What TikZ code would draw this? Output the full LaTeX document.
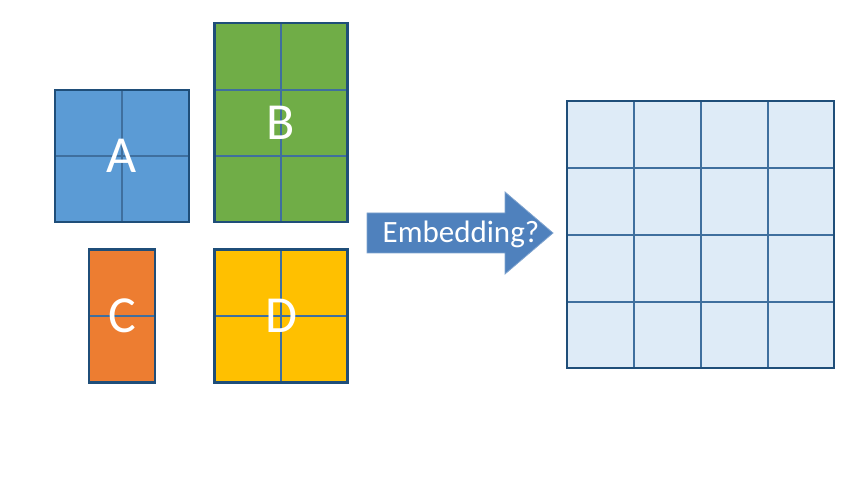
\documentclass[tikz,border=0pt]{standalone}
\usepackage{fontspec}
\setmainfont{Carlito}
\definecolor{cA}{HTML}{5B9BD5}
\definecolor{cB}{HTML}{70AD47}
\definecolor{cC}{HTML}{ED7D31}
\definecolor{cD}{HTML}{FFC000}
\definecolor{edge}{HTML}{1F4E79}
\definecolor{inner}{HTML}{3F6F9E}
\definecolor{gridfill}{HTML}{DEEBF7}
\definecolor{arrowfill}{HTML}{4F81BD}
\definecolor{arrowedge}{HTML}{7FA3CE}
\begin{document}
\begin{tikzpicture}[x=1pt,y=-1pt,
  block/.style={draw=edge,line width=2.4pt,inner sep=0pt,text=white,font=\fontsize{52}{52}\selectfont},
  cellline/.style={draw=inner,line width=1.6pt},
  embedtext/.style={text=white,font=\fontsize{31}{31}\selectfont,inner sep=0pt}]
\useasboundingbox (0,0) rectangle (846,494);
% blocks
\path[fill=cA] (55,90) rectangle (189,222);
\draw[cellline] (122,90) -- (122,222) (55,156) -- (189,156);
\node[block,minimum width=134pt,minimum height=132pt] (A) at (122,156) {A};
\path[fill=cB] (214,23) rectangle (347,222);
\draw[cellline] (281,23) -- (281,222) (214,90) -- (347,90) (214,156) -- (347,156);
\node[block,minimum width=133pt,minimum height=199pt] (B) at (281,122.5) {B};
\path[fill=cC] (89,249) rectangle (155,382);
\draw[cellline] (89,316) -- (155,316);
\node[block,minimum width=66pt,minimum height=133pt] (C) at (122,316) {C};
\path[fill=cD] (214,249) rectangle (347,382);
\draw[cellline] (281,249) -- (281,382) (214,316) -- (347,316);
\node[block,minimum width=133pt,minimum height=133pt] (D) at (281,316) {D};
% arrow
\draw[fill=arrowfill,draw=arrowedge,line width=0.8pt,line join=miter]
  (367,213) -- (505,213) -- (505,192) -- (553,233) -- (505,274) -- (505,253) -- (367,253) -- cycle;
\node[embedtext] (E) at (461,234) {Embedding?};
% target grid
\path[fill=gridfill] (567,101) rectangle (834,368);
\draw[cellline,draw=inner] (634,101) -- (634,368) (701,101) -- (701,368) (768,101) -- (768,368)
  (567,168) -- (834,168) (567,235) -- (834,235) (567,302) -- (834,302);
\node[draw=edge,line width=2.4pt,inner sep=0pt,minimum width=267pt,minimum height=267pt] (G) at (700.5,234.5) {};
\end{tikzpicture}
\end{document}
